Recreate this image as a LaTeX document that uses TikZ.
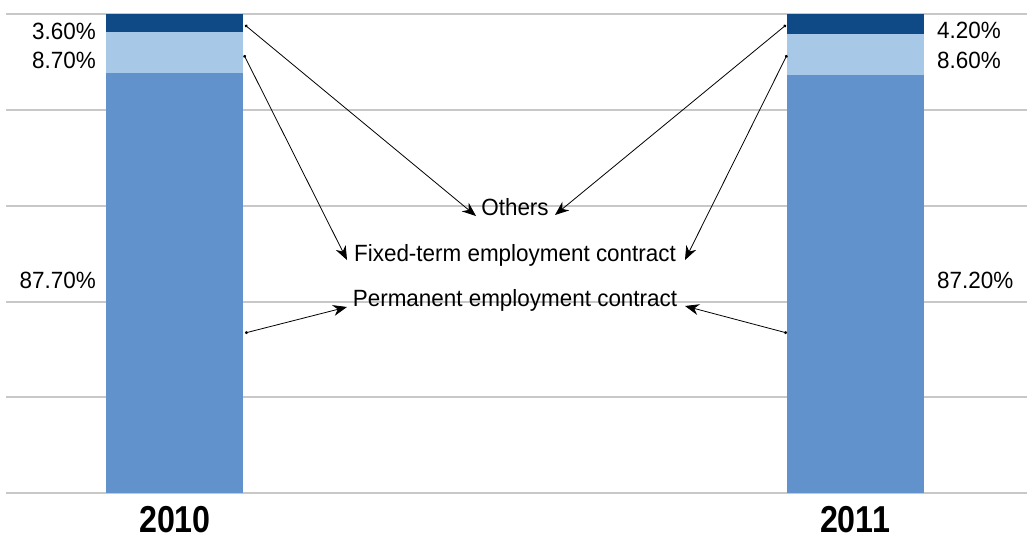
\documentclass[tikz,border=0pt]{standalone}
\usepackage{fontspec}
\setmainfont{Liberation Sans}[FakeStretch=0.955]
\newfontfamily\yearfont{Liberation Sans}[FakeStretch=0.86]
\usetikzlibrary{arrows.meta}
\definecolor{cdark}{HTML}{0F4A87}
\definecolor{clight}{HTML}{A7C9E7}
\definecolor{cmed}{HTML}{6192CB}
\definecolor{cgrid}{HTML}{C8C8C8}
\tikzset{
  grid/.style={draw=cgrid, line width=1.2pt},
  pct/.style={font=\fontsize{23.5}{26}\selectfont, inner sep=0pt},
  lbl/.style={font=\fontsize{23.5}{26}\selectfont, inner sep=0pt, anchor=base},
  year/.style={font=\yearfont\fontsize{37.5}{40}\selectfont\bfseries, inner sep=0pt, anchor=base},
  conn/.style={line width=0.8pt, {Circle[length=3pt]}-{Stealth[length=14pt,width=11pt]}}
}
\begin{document}
\begin{tikzpicture}[x=1pt,y=-1pt]
\useasboundingbox (0,0) rectangle (1029,536);
\foreach \y in {14,110,206,302,397,493} \draw[grid] (6,\y) -- (1027,\y);
% bars
\fill[cmed] (106,73) rectangle (243,493);
\fill[clight] (106,32) rectangle (243,73);
\fill[cdark] (106,14) rectangle (243,32);
\fill[cmed] (787,75) rectangle (924,493);
\fill[clight] (787,34) rectangle (924,75);
\fill[cdark] (787,14) rectangle (924,34);
% value labels
\node[pct, anchor=base east] (a1) at (96,39) {3.60\%};
\node[pct, anchor=base east] (a2) at (96,68) {8.70\%};
\node[pct, anchor=base east] (a3) at (96,288) {87.70\%};
\node[pct, anchor=base west] (b1) at (937,38) {4.20\%};
\node[pct, anchor=base west] (b2) at (937,68) {8.60\%};
\node[pct, anchor=base west] (b3) at (937,288) {87.20\%};
% years
\node[year] (y1) at (175,532) {2010};
\node[year] (y2) at (855,532) {2011};
% legend texts
\node[lbl] (oth) at (515,215) {Others};
\node[lbl] (fix) at (515,261.5) {Fixed-term employment contract};
\node[lbl] (per) at (515,306.5) {Permanent employment contract};
% anchor coordinates
\coordinate (l1) at (245,25);
\coordinate (l2) at (244,55);
\coordinate (l3) at (245,333);
\coordinate (r1) at (786,25);
\coordinate (r2) at (787,55);
\coordinate (r3) at (787,333);
\coordinate (t1) at (476,216);
\coordinate (t2) at (555,215);
\coordinate (t3) at (347,260);
\coordinate (t4) at (685,260);
\coordinate (t5) at (347,307);
\coordinate (t6) at (685,306);
\draw[conn] (l1) -- (t1);
\draw[conn] (l2) -- (t3);
\draw[conn] (l3) -- (t5);
\draw[conn] (r1) -- (t2);
\draw[conn] (r2) -- (t4);
\draw[conn] (r3) -- (t6);
\end{tikzpicture}
\end{document}
